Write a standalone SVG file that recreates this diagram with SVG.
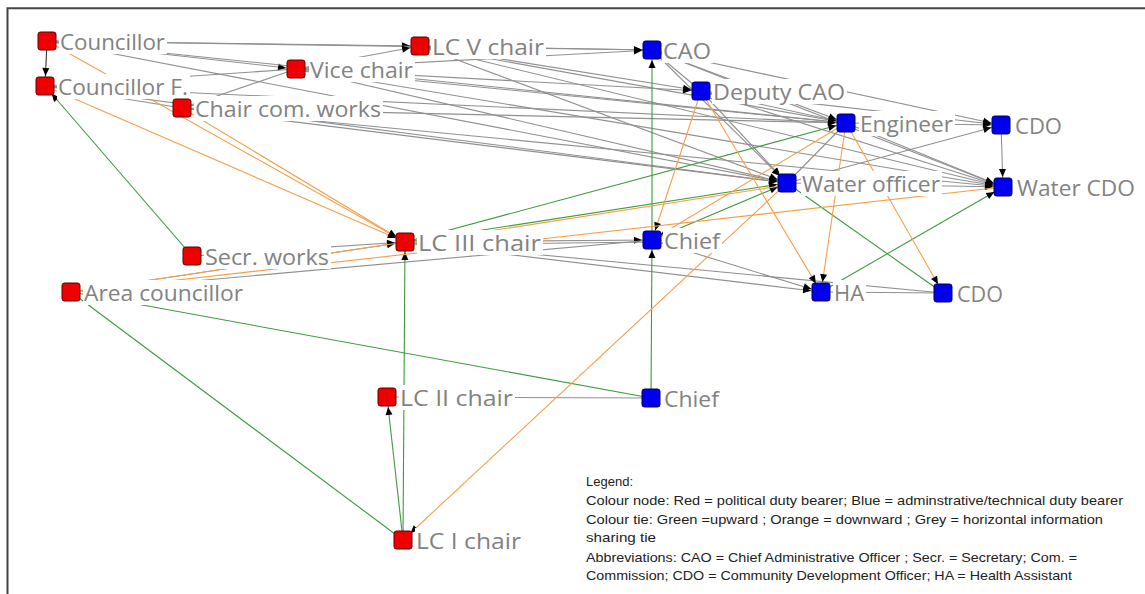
<svg xmlns="http://www.w3.org/2000/svg" width="1145" height="594" viewBox="0 0 1145 594">
<defs>
<marker id="ah" markerUnits="userSpaceOnUse" markerWidth="12" markerHeight="10" refX="10" refY="0" orient="auto" overflow="visible">
<path d="M-8,-3.5 L0,0 L-8,3.5 z" fill="#000"/>
</marker>
<style>
line{fill:none}
.g{stroke:#909090;stroke-width:1.1}
.gd{stroke:#333;stroke-width:1.1}
.gr{stroke:#3f9a3f;stroke-width:1.1}
.or{stroke:#f5a04a;stroke-width:1.1}
.a{marker-end:url(#ah)}
.lb{fill:#fff}
.tx{font-family:"Open Sans","DejaVu Sans",sans-serif;font-size:22px;fill:#828282}
.r{fill:#ee0000;stroke:#5a0000;stroke-width:1}
.b{fill:#0000ee;stroke:#00005a;stroke-width:1}
.lg{font-family:"Liberation Sans",Arial,sans-serif;font-size:13px;fill:#222}
</style>
</defs>
<rect width="1145" height="594" fill="#fff"/>
<path d="M7.5,594 V8.3 H1145" stroke="#454545" stroke-width="2" fill="none"/>

<g id="connectors">
<line class="gd a" x1="47" y1="41" x2="45" y2="86"/>
<line class="g a" x1="47" y1="41" x2="420" y2="46"/>
<line class="g a" x1="47" y1="41" x2="296" y2="69"/>
<line class="g a" x1="47" y1="41" x2="846" y2="123"/>
<line class="g a" x1="47" y1="41" x2="787" y2="183"/>
<line class="g a" x1="47" y1="41" x2="652" y2="50"/>
<line class="g a" x1="296" y1="69" x2="420" y2="46"/>
<line class="g a" x1="420" y1="46" x2="652" y2="50"/>
<line class="g a" x1="296" y1="69" x2="652" y2="50"/>
<line class="g a" x1="296" y1="69" x2="846" y2="123"/>
<line class="g a" x1="296" y1="69" x2="787" y2="183"/>
<line class="g a" x1="296" y1="69" x2="1003" y2="187"/>
<line class="g a" x1="296" y1="69" x2="701" y2="91"/>
<line class="g a" x1="420" y1="46" x2="846" y2="123"/>
<line class="g a" x1="420" y1="46" x2="787" y2="183"/>
<line class="g a" x1="420" y1="46" x2="1003" y2="187"/>
<line class="g a" x1="420" y1="46" x2="701" y2="91"/>
<line class="g a" x1="182" y1="108" x2="846" y2="123"/>
<line class="g a" x1="182" y1="108" x2="787" y2="183"/>
<line class="g a" x1="182" y1="108" x2="1003" y2="187"/>
<line class="g" x1="182" y1="108" x2="296" y2="69"/>
<line class="g" x1="45" y1="86" x2="296" y2="69"/>
<line class="g" x1="45" y1="86" x2="182" y2="108"/>
<line class="g a" x1="45" y1="86" x2="846" y2="123"/>
<line class="g a" x1="45" y1="86" x2="787" y2="183"/>
<line class="g" x1="652" y1="50" x2="701" y2="91"/>
<line class="g a" x1="652" y1="50" x2="846" y2="123"/>
<line class="g a" x1="652" y1="50" x2="1001" y2="125"/>
<line class="g a" x1="652" y1="50" x2="787" y2="183"/>
<line class="g a" x1="652" y1="50" x2="1003" y2="187"/>
<line class="g a" x1="701" y1="91" x2="846" y2="123"/>
<line class="g a" x1="701" y1="91" x2="787" y2="183"/>
<line class="g a" x1="701" y1="91" x2="1003" y2="187"/>
<line class="g a" x1="701" y1="91" x2="1001" y2="125"/>
<line class="g a" x1="846" y1="123" x2="1001" y2="125"/>
<line class="g a" x1="846" y1="123" x2="1003" y2="187"/>
<line class="g a" x1="787" y1="183" x2="1001" y2="125"/>
<line class="g a" x1="1001" y1="125" x2="1003" y2="187"/>
<line class="g a" x1="787" y1="183" x2="1003" y2="187"/>
<line class="g" x1="846" y1="123" x2="787" y2="183"/>
<line class="g a" x1="405" y1="242" x2="652" y2="240"/>
<line class="g" x1="405" y1="245" x2="652" y2="242"/>
<line class="g a" x1="405" y1="242" x2="821" y2="292"/>
<line class="g" x1="405" y1="242" x2="943" y2="293"/>
<line class="g a" x1="652" y1="240" x2="821" y2="292"/>
<line class="g" x1="821" y1="292" x2="943" y2="293"/>
<line class="g a" x1="192" y1="256" x2="405" y2="242"/>
<line class="g a" x1="71" y1="292" x2="405" y2="242"/>
<line class="g" x1="71" y1="292" x2="652" y2="240"/>
<line class="g" x1="387" y1="397" x2="651" y2="398"/>
<line class="gr a" x1="192" y1="256" x2="45" y2="86"/>
<line class="gr" x1="403" y1="540" x2="71" y2="292"/>
<line class="gr" x1="651" y1="398" x2="71" y2="292"/>
<line class="gr a" x1="403" y1="540" x2="387" y2="397"/>
<line class="gr a" x1="403" y1="540" x2="405" y2="242"/>
<line class="gr a" x1="651" y1="398" x2="652" y2="240"/>
<line class="gr a" x1="652" y1="240" x2="652" y2="50"/>
<line class="gr a" x1="405" y1="242" x2="846" y2="123"/>
<line class="gr a" x1="405" y1="242" x2="787" y2="183"/>
<line class="gr a" x1="652" y1="240" x2="787" y2="183"/>
<line class="gr" x1="943" y1="293" x2="787" y2="183"/>
<line class="gr a" x1="821" y1="292" x2="1003" y2="187"/>
<line class="or a" x1="47" y1="41" x2="405" y2="242"/>
<line class="or a" x1="45" y1="86" x2="405" y2="242"/>
<line class="or a" x1="182" y1="108" x2="405" y2="242"/>
<line class="or a" x1="787" y1="183" x2="403" y2="540"/>
<line class="or a" x1="701" y1="91" x2="652" y2="240"/>
<line class="or a" x1="701" y1="91" x2="821" y2="292"/>
<line class="or a" x1="846" y1="123" x2="821" y2="292"/>
<line class="or a" x1="846" y1="123" x2="943" y2="293"/>
<line class="or a" x1="846" y1="123" x2="652" y2="240"/>
<line class="or" x1="1003" y1="187" x2="71" y2="292"/>
<line class="or" x1="405" y1="242" x2="71" y2="292"/>
<line class="or" x1="787" y1="185" x2="405" y2="244"/>
</g>

<g id="labels">
<rect class="lb" x="59" y="29" width="108" height="25"/>
<rect class="lb" x="57" y="74" width="133" height="25"/>
<rect class="lb" x="194" y="96" width="189" height="25"/>
<rect class="lb" x="309" y="57" width="106" height="25"/>
<rect class="lb" x="431" y="34" width="115" height="25"/>
<rect class="lb" x="662" y="38" width="51" height="25"/>
<rect class="lb" x="712" y="79" width="135" height="25"/>
<rect class="lb" x="859" y="111" width="96" height="25"/>
<rect class="lb" x="1014" y="113" width="50" height="25"/>
<rect class="lb" x="801" y="171" width="141" height="25"/>
<rect class="lb" x="1016" y="175" width="121" height="25"/>
<rect class="lb" x="663" y="228" width="59" height="25"/>
<rect class="lb" x="833" y="280" width="33" height="25"/>
<rect class="lb" x="956" y="281" width="49" height="25"/>
<rect class="lb" x="417" y="230" width="126" height="25"/>
<rect class="lb" x="204" y="244" width="127" height="25"/>
<rect class="lb" x="83" y="280" width="162" height="25"/>
<rect class="lb" x="399" y="385" width="116" height="25"/>
<rect class="lb" x="663" y="386" width="58" height="25"/>
<rect class="lb" x="415" y="528" width="108" height="25"/>
</g>

<g id="node-councillor"><rect class="r" x="38" y="32" width="18" height="18" rx="2.5"/><text class="tx" x="60" y="49.5" textLength="105" lengthAdjust="spacingAndGlyphs">Councillor</text></g>
<g id="node-councillor-f"><rect class="r" x="36" y="77" width="18" height="18" rx="2.5"/><text class="tx" x="58" y="94.5" textLength="130" lengthAdjust="spacingAndGlyphs">Councillor F.</text></g>
<g id="node-chair-com-works"><rect class="r" x="173" y="99" width="18" height="18" rx="2.5"/><text class="tx" x="195" y="116.5" textLength="186" lengthAdjust="spacingAndGlyphs">Chair com. works</text></g>
<g id="node-vice-chair"><rect class="r" x="287" y="60" width="18" height="18" rx="2.5"/><text class="tx" x="310" y="77.5" textLength="103" lengthAdjust="spacingAndGlyphs">Vice chair</text></g>
<g id="node-lc-v-chair"><rect class="r" x="411" y="37" width="18" height="18" rx="2.5"/><text class="tx" x="432" y="54.5" textLength="112" lengthAdjust="spacingAndGlyphs">LC V chair</text></g>
<g id="node-cao"><rect class="b" x="643" y="41" width="18" height="18" rx="2.5"/><text class="tx" x="663" y="58.5" textLength="48" lengthAdjust="spacingAndGlyphs">CAO</text></g>
<g id="node-deputy-cao"><rect class="b" x="692" y="82" width="18" height="18" rx="2.5"/><text class="tx" x="713" y="99.5" textLength="132" lengthAdjust="spacingAndGlyphs">Deputy CAO</text></g>
<g id="node-engineer"><rect class="b" x="837" y="114" width="18" height="18" rx="2.5"/><text class="tx" x="860" y="131.5" textLength="93" lengthAdjust="spacingAndGlyphs">Engineer</text></g>
<g id="node-cdo-1"><rect class="b" x="992" y="116" width="18" height="18" rx="2.5"/><text class="tx" x="1015" y="133.5" textLength="47" lengthAdjust="spacingAndGlyphs">CDO</text></g>
<g id="node-water-officer"><rect class="b" x="778" y="174" width="18" height="18" rx="2.5"/><text class="tx" x="802" y="191.5" textLength="138" lengthAdjust="spacingAndGlyphs">Water officer</text></g>
<g id="node-water-cdo"><rect class="b" x="994" y="178" width="18" height="18" rx="2.5"/><text class="tx" x="1017" y="195.5" textLength="118" lengthAdjust="spacingAndGlyphs">Water CDO</text></g>
<g id="node-chief-1"><rect class="b" x="643" y="231" width="18" height="18" rx="2.5"/><text class="tx" x="664" y="248.5" textLength="56" lengthAdjust="spacingAndGlyphs">Chief</text></g>
<g id="node-ha"><rect class="b" x="812" y="283" width="18" height="18" rx="2.5"/><text class="tx" x="834" y="300.5" textLength="30" lengthAdjust="spacingAndGlyphs">HA</text></g>
<g id="node-cdo-2"><rect class="b" x="934" y="284" width="18" height="18" rx="2.5"/><text class="tx" x="957" y="301.5" textLength="46" lengthAdjust="spacingAndGlyphs">CDO</text></g>
<g id="node-lc-iii-chair"><rect class="r" x="396" y="233" width="18" height="18" rx="2.5"/><text class="tx" x="418" y="250.5" textLength="123" lengthAdjust="spacingAndGlyphs">LC III chair</text></g>
<g id="node-secr-works"><rect class="r" x="183" y="247" width="18" height="18" rx="2.5"/><text class="tx" x="205" y="264.5" textLength="124" lengthAdjust="spacingAndGlyphs">Secr. works</text></g>
<g id="node-area-councillor"><rect class="r" x="62" y="283" width="18" height="18" rx="2.5"/><text class="tx" x="84" y="300.5" textLength="159" lengthAdjust="spacingAndGlyphs">Area councillor</text></g>
<g id="node-lc-ii-chair"><rect class="r" x="378" y="388" width="18" height="18" rx="2.5"/><text class="tx" x="400" y="405.5" textLength="113" lengthAdjust="spacingAndGlyphs">LC II chair</text></g>
<g id="node-chief-2"><rect class="b" x="642" y="389" width="18" height="18" rx="2.5"/><text class="tx" x="664" y="406.5" textLength="55" lengthAdjust="spacingAndGlyphs">Chief</text></g>
<g id="node-lc-i-chair"><rect class="r" x="394" y="531" width="18" height="18" rx="2.5"/><text class="tx" x="416" y="548.5" textLength="105" lengthAdjust="spacingAndGlyphs">LC I chair</text></g>

<g id="legend">
<text class="lg" x="586" y="486">Legend:</text>
<text class="lg" x="586" y="505" textLength="537" lengthAdjust="spacingAndGlyphs">Colour node: Red = political duty bearer; Blue = adminstrative/technical duty bearer</text>
<text class="lg" x="586" y="524" textLength="517" lengthAdjust="spacingAndGlyphs">Colour tie: Green =upward ; Orange = downward ; Grey = horizontal information</text>
<text class="lg" x="586" y="542" textLength="70" lengthAdjust="spacingAndGlyphs">sharing tie</text>
<text class="lg" x="586" y="562" textLength="491" lengthAdjust="spacingAndGlyphs">Abbreviations: CAO = Chief Administrative Officer ; Secr. = Secretary; Com. =</text>
<text class="lg" x="586" y="580" textLength="486" lengthAdjust="spacingAndGlyphs">Commission; CDO = Community Development Officer; HA = Health Assistant</text>
</g>
</svg>
